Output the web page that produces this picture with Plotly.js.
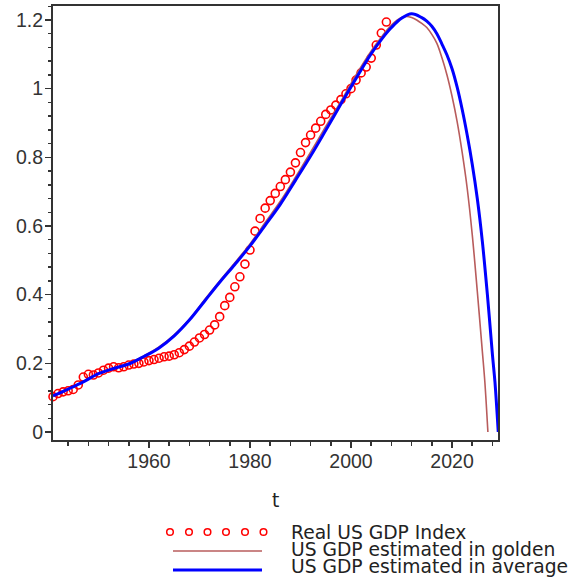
<!DOCTYPE html>
<html>
<head>
<meta charset="utf-8">
<script src="https://cdn.plot.ly/plotly-3.0.1.min.js"></script>
<style>html,body{margin:0;padding:0;background:#fff;}#chart{width:568px;height:582px;}</style>
</head>
<body>
<div id="chart"></div>
<script>
// Real US GDP Index (circles)
const gdpYears = [];
for (let y = 1941; y <= 2007; y++) gdpYears.push(y);
const gdpValues = [
  0.103, 0.112, 0.117, 0.120, 0.124, 0.137, 0.160, 0.168, 0.166, 0.172,
  0.180, 0.186, 0.190, 0.187, 0.190, 0.195, 0.198, 0.200, 0.204, 0.208,
  0.211, 0.215, 0.219, 0.221, 0.225, 0.231, 0.240, 0.250, 0.262, 0.274,
  0.284, 0.297, 0.312, 0.336, 0.368, 0.392, 0.423, 0.452, 0.489, 0.530,
  0.585, 0.622, 0.652, 0.674, 0.695, 0.715, 0.735, 0.757, 0.784, 0.814,
  0.843, 0.865, 0.885, 0.905, 0.925, 0.938, 0.952, 0.968, 0.985, 1.000,
  1.025, 1.046, 1.063, 1.089, 1.127, 1.162, 1.194
];

// US GDP estimated in golden (brown line)
const goldenYears = [1941, 1944, 1947, 1950, 1953, 1956, 1959, 1962, 1965, 1968, 1971, 1974, 1977, 1980, 1983, 1986, 1989, 1992, 1995, 1998, 2001, 2004, 2006, 2008, 2010, 2011, 2012, 2013, 2014, 2015, 2016, 2017, 2018, 2019, 2020, 2021, 2022, 2023, 2024, 2025, 2026, 2026.5, 2027.1];
const goldenValues = [0.105, 0.125, 0.147, 0.170, 0.186, 0.200, 0.222, 0.248, 0.283, 0.328, 0.385, 0.440, 0.493, 0.548, 0.610, 0.672, 0.742, 0.815, 0.890, 0.963, 1.040, 1.110, 1.150, 1.185, 1.207, 1.210, 1.207, 1.200, 1.190, 1.178, 1.158, 1.132, 1.090, 1.040, 0.978, 0.905, 0.815, 0.710, 0.575, 0.410, 0.235, 0.145, 0.000];

// US GDP estimated in average (blue line)
const averageYears = [1941, 1944, 1947, 1950, 1953, 1956, 1959, 1962, 1965, 1968, 1971, 1974, 1977, 1980, 1983, 1986, 1989, 1992, 1995, 1998, 2001, 2004, 2006, 2008, 2010, 2012, 2014, 2015, 2016, 2017, 2018, 2019, 2020, 2021, 2022, 2023, 2024, 2025, 2026, 2027, 2028, 2028.5, 2029.15];
const averageValues = [0.105, 0.125, 0.146, 0.170, 0.185, 0.198, 0.220, 0.245, 0.280, 0.326, 0.381, 0.436, 0.488, 0.542, 0.602, 0.663, 0.733, 0.804, 0.879, 0.955, 1.030, 1.102, 1.143, 1.178, 1.205, 1.218, 1.207, 1.197, 1.182, 1.160, 1.130, 1.098, 1.058, 1.005, 0.940, 0.865, 0.780, 0.680, 0.555, 0.400, 0.225, 0.145, 0.000];

const legendLabels = ['Real US GDP Index', 'US GDP estimated in golden', 'US GDP estimated in average'];
const xTitle = 't';

const RED = '#ff0000', BROWN = '#b85c5c', BLUE = '#0000ff', INK = '#333333';
const TICKFONT = {family: 'Liberation Sans, Arial, sans-serif', size: 19.5, color: INK};
const TEXTFONT = {family: 'DejaVu Sans, Verdana, sans-serif', size: 18.7, color: '#222222'};

// plot area in pixels: left 53, right 498, top 6, bottom 440
const L = 53, R = 498, T = 6, B = 440;
const px = x => (x - L) / (R - L);
const py = y => (B - y) / (B - T);

const traces = [
  {x: gdpYears, y: gdpValues, type: 'scatter', mode: 'markers', cliponaxis: false,
   marker: {symbol: 'circle-open', size: 8, color: RED, line: {width: 1.6, color: RED}}},
  {x: goldenYears, y: goldenValues, type: 'scatter', mode: 'lines',
   line: {color: BROWN, width: 1.6, shape: 'spline', smoothing: 1}},
  {x: averageYears, y: averageValues, type: 'scatter', mode: 'lines',
   line: {color: BLUE, width: 3, shape: 'spline', smoothing: 1}}
];

const shapes = [];
const annotations = [];
// legend row 1: six small open circles
[170, 189, 207.5, 226, 245, 263.5].forEach(cx => {
  const r = 3.3;
  shapes.push({type: 'circle', xref: 'paper', yref: 'paper',
    x0: px(cx - r), x1: px(cx + r), y0: py(532 + r), y1: py(532 - r),
    line: {color: RED, width: 1.5}, fillcolor: 'rgba(0,0,0,0)'});
});
shapes.push({type: 'line', xref: 'paper', yref: 'paper', x0: px(173), x1: px(262), y0: py(551), y1: py(551),
  line: {color: BROWN, width: 1.6}});
shapes.push({type: 'line', xref: 'paper', yref: 'paper', x0: px(173), x1: px(262), y0: py(570), y1: py(570),
  line: {color: BLUE, width: 3}});

[[532, legendLabels[0]], [549, legendLabels[1]], [566, legendLabels[2]]].forEach(([cy, txt]) => {
  annotations.push({xref: 'paper', yref: 'paper', x: px(290), y: py(cy), xanchor: 'left', yanchor: 'middle',
    text: txt, showarrow: false, font: TEXTFONT, borderpad: 0});
});
annotations.push({xref: 'paper', yref: 'paper', x: px(275.5), y: py(500), xanchor: 'center', yanchor: 'middle',
  text: xTitle, showarrow: false, font: TEXTFONT, borderpad: 0});

const axisCommon = {
  showgrid: false, zeroline: false, showline: true, linewidth: 2, linecolor: INK, mirror: true,
  ticks: 'outside', ticklen: 6, tickwidth: 1.5, tickcolor: INK, tickfont: TICKFONT
};

const layout = {
  width: 568, height: 582,
  margin: {l: L, r: 568 - R, t: T, b: 582 - B, pad: 0},
  paper_bgcolor: '#ffffff', plot_bgcolor: '#ffffff',
  showlegend: false,
  xaxis: Object.assign({}, axisCommon, {
    range: [1941.0, 2029.1], tickmode: 'linear', tick0: 1960, dtick: 20, ticklabelstandoff: -3,
    minor: {tickmode: 'linear', tick0: 1940, dtick: 4, ticks: 'outside', ticklen: 3.5, tickwidth: 1.5, tickcolor: INK, showgrid: false}
  }),
  yaxis: Object.assign({}, axisCommon, {
    range: [-0.0233, 1.2408], tickmode: 'linear', tick0: 0, dtick: 0.2, ticklabelstandoff: -2,
    minor: {tickmode: 'linear', tick0: 0, dtick: 0.04, ticks: 'outside', ticklen: 3.5, tickwidth: 1.5, tickcolor: INK, showgrid: false}
  }),
  shapes: shapes,
  annotations: annotations
};

Plotly.newPlot('chart', traces, layout, {staticPlot: true, displayModeBar: false});
</script>
</body>
</html>
